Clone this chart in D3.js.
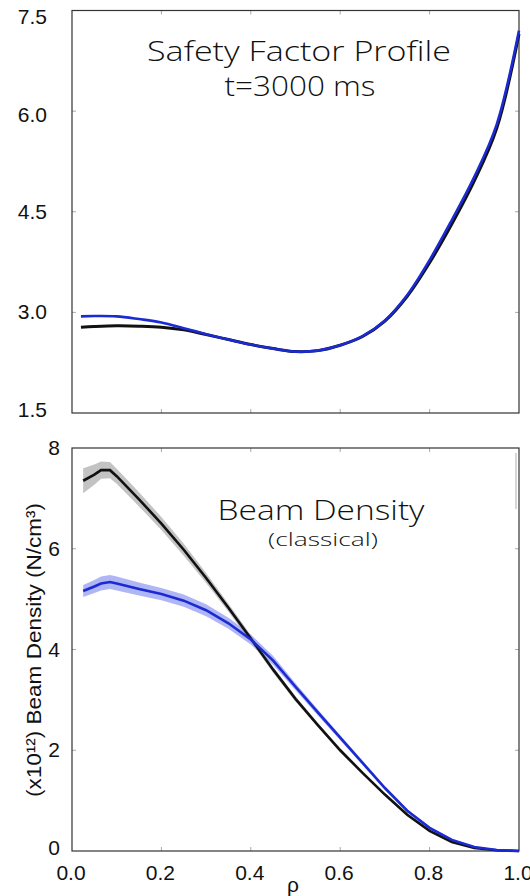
<!DOCTYPE html>
<html><head><meta charset="utf-8">
<script src="https://cdn.jsdelivr.net/npm/d3@7"></script>
<style>body{margin:0;background:#fff}</style>
</head><body>
<svg id="c" width="530" height="896"></svg>
<script>
// ---- data ----
const rhoQ   = [0.02,0.05,0.1,0.15,0.2,0.25,0.3,0.35,0.4,0.45,0.5,0.55,0.6,0.65,0.7,0.75,0.8,0.85,0.9,0.95,1.0];
const qBlack = [2.78,2.79,2.80,2.795,2.78,2.74,2.67,2.595,2.52,2.46,2.415,2.43,2.51,2.64,2.87,3.24,3.74,4.32,4.96,5.74,7.15];
const qBlue  = [2.94,2.945,2.94,2.90,2.85,2.765,2.675,2.595,2.52,2.46,2.415,2.43,2.51,2.645,2.88,3.26,3.78,4.38,5.02,5.80,7.2];

const rhoN   = [0.025,0.05,0.065,0.085,0.1,0.15,0.2,0.25,0.3,0.35,0.4,0.45,0.5,0.55,0.6,0.65,0.7,0.75,0.8,0.85,0.9,0.95,1.0];
const nBlack = [7.35,7.47,7.56,7.56,7.44,6.98,6.5,5.98,5.42,4.83,4.22,3.6,3.02,2.5,2.0,1.55,1.12,0.72,0.4,0.18,0.06,0.015,0.0];
const nBlue  = [5.16,5.25,5.31,5.34,5.31,5.2,5.1,4.97,4.78,4.52,4.2,3.78,3.26,2.75,2.25,1.75,1.25,0.8,0.46,0.22,0.08,0.02,0.0];
const errBlack = [0.25,0.2,0.17,0.16,0.15,0.14,0.13,0.12,0.1,0.08,0.07,0.06,0.05,0.04,0.04,0.03,0.03,0.03,0.02,0.02,0.01,0.01,0.0];
const errBlue  = [0.12,0.13,0.14,0.14,0.14,0.13,0.12,0.12,0.12,0.11,0.1,0.09,0.07,0.06,0.05,0.04,0.03,0.03,0.02,0.02,0.01,0.01,0.0];

const xTicks = [0,0.2,0.4,0.6,0.8,1.0];
const qTicks = [1.5,3.0,4.5,6.0,7.5];
const nTicks = [0,2,4,6,8];

// ---- layout ----
const svg = d3.select("#c");
const L = 72, R = 519;
const x = d3.scaleLinear().domain([0,1]).range([L,R]);
const yQ = d3.scaleLinear().domain([1.5,7.5]).range([413,10.5]);
const yN = d3.scaleLinear().domain([0,8]).range([851,448]);
const BLUE = "#1b2bd3";
const axisFont = "'Liberation Sans', Arial, sans-serif";
const titleFont = "'Open Sans', 'Noto Sans', sans-serif";

function frame(y, yTicks) {
  const g = svg.append("g");
  const [y0,y1] = y.range();
  const tk = g.append("g").attr("stroke","#aaa").attr("stroke-width",1);
  xTicks.slice(1,-1).forEach(t=>{
    tk.append("line").attr("x1",x(t)).attr("x2",x(t)).attr("y1",y0).attr("y2",y0-4);
    tk.append("line").attr("x1",x(t)).attr("x2",x(t)).attr("y1",y1).attr("y2",y1+4);
  });
  yTicks.slice(1,-1).forEach(t=>{
    tk.append("line").attr("x1",L).attr("x2",L+4).attr("y1",y(t)).attr("y2",y(t));
    tk.append("line").attr("x1",R).attr("x2",R-4).attr("y1",y(t)).attr("y2",y(t));
  });
  g.append("rect").attr("x",L).attr("y",y1).attr("width",R-L).attr("height",y0-y1)
    .attr("fill","none").attr("stroke","#333").attr("stroke-width",1.2);
  return g;
}
function title(txt, cx, by, size, len) {
  svg.append("text").attr("x",cx).attr("y",by).attr("text-anchor","middle")
    .attr("font-family",titleFont).attr("font-weight",300).attr("font-size",size).attr("fill","#111")
    .attr("textLength",len).attr("lengthAdjust","spacingAndGlyphs").text(txt);
}

// ---- top panel ----
frame(yQ, qTicks);
const lineQ = d3.line().x(d=>x(d[0])).y(d=>yQ(d[1])).curve(d3.curveCatmullRom.alpha(0.5));
svg.append("path").datum(rhoQ.map((r,i)=>[r,qBlack[i]])).attr("d",lineQ)
  .attr("fill","none").attr("stroke","#111").attr("stroke-width",3);
svg.append("path").datum(rhoQ.map((r,i)=>[r,qBlue[i]])).attr("d",lineQ)
  .attr("fill","none").attr("stroke",BLUE).attr("stroke-width",2.6);

const ytQ = svg.append("g").attr("font-family",axisFont).attr("font-size",21).attr("fill","#111").attr("text-anchor","end");
qTicks.forEach(t=>{
  let dy = 7;
  if (t===7.5) dy = 13; if (t===1.5) dy = 4; if (t===6.0) dy = 11;
  ytQ.append("text").attr("x",47).attr("y",yQ(t)+dy).text(t.toFixed(1));
});

title("Safety Factor Profile", 299, 61, 27, 304);
title("t=3000 ms", 300, 96, 27, 151);

// ---- bottom panel ----
frame(yN, nTicks);
const area = d3.area().x(d=>x(d[0])).y0(d=>yN(d[1]-d[2])).y1(d=>yN(d[1]+d[2]));
const lineN = d3.line().x(d=>x(d[0])).y(d=>yN(d[1]));
const dBlack = rhoN.map((r,i)=>[r,nBlack[i],errBlack[i]]);
const dBlue  = rhoN.map((r,i)=>[r,nBlue[i],errBlue[i]]);
svg.append("path").datum(dBlack).attr("d",area).attr("fill","#b8b8b8").attr("opacity",0.85);
svg.append("path").datum(dBlue).attr("d",area).attr("fill","#8f95f0").attr("opacity",0.7);
svg.append("path").datum(dBlack).attr("d",lineN).attr("fill","none").attr("stroke","#111").attr("stroke-width",2.6);
svg.append("path").datum(dBlue).attr("d",lineN).attr("fill","none").attr("stroke",BLUE).attr("stroke-width",2.6);

svg.append("line").attr("x1",516).attr("x2",516).attr("y1",453).attr("y2",509).attr("stroke","#bbb").attr("stroke-width",1.2);

const ytN = svg.append("g").attr("font-family",axisFont).attr("font-size",21).attr("fill","#111").attr("text-anchor","end");
nTicks.forEach(t=>{
  let dy = 7; if (t===0) dy = 4;
  ytN.append("text").attr("x",60).attr("y",yN(t)+dy).text(t);
});
const xt = svg.append("g").attr("font-family",axisFont).attr("font-size",21).attr("fill","#111").attr("text-anchor","middle");
xTicks.forEach(t=>{
  xt.append("text").attr("x",x(t)-1).attr("y",880).text(t.toFixed(1));
});
svg.append("text").attr("x",293).attr("y",892).attr("text-anchor","middle")
  .attr("font-family",axisFont).attr("font-size",21).attr("fill","#111").text("ρ");
svg.append("text").attr("transform","translate(41,650) rotate(-90)").attr("text-anchor","middle")
  .attr("font-family",axisFont).attr("font-size",21).attr("fill","#111")
  .attr("textLength",294).attr("lengthAdjust","spacingAndGlyphs")
  .text("(x10¹²) Beam Density (N/cm³)");

title("Beam Density", 321, 520, 28, 207);
title("(classical)", 323, 546, 19, 110);
</script>
</body></html>
